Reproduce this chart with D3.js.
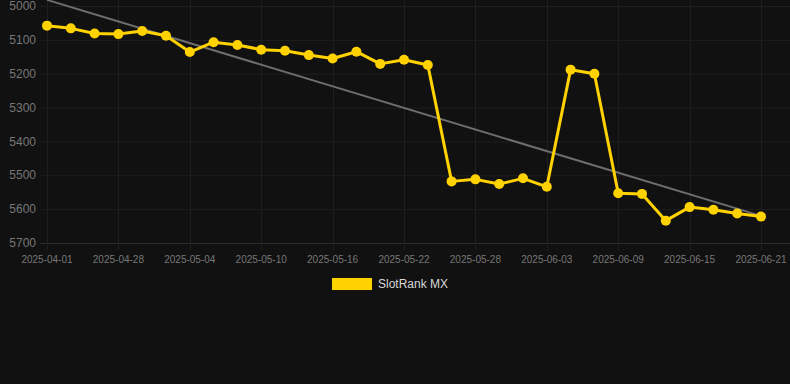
<!DOCTYPE html>
<html>
<head>
<meta charset="utf-8">
<script src="https://cdn.jsdelivr.net/npm/d3@7"></script>
<style>
  html, body { margin: 0; padding: 0; background: #111111; }
  svg { display: block; font-family: 'Liberation Sans', Arial, sans-serif; }
</style>
</head>
<body>
<div id="chart"></div>
<script>
const WIDTH = 790;
const HEIGHT = 384;

// dates on the category axis
const dates = [
  '2025-04-01', '2025-04-24', '2025-04-26', '2025-04-28', '2025-04-30', '2025-05-02',
  '2025-05-04', '2025-05-06', '2025-05-08', '2025-05-10', '2025-05-12', '2025-05-14',
  '2025-05-16', '2025-05-18', '2025-05-20', '2025-05-22', '2025-05-24', '2025-05-26',
  '2025-05-28', '2025-05-30', '2025-06-01', '2025-06-03', '2025-06-05', '2025-06-07',
  '2025-06-09', '2025-06-11', '2025-06-13', '2025-06-15', '2025-06-17', '2025-06-19',
  '2025-06-21',
];

// rank values (lower is better, axis reversed)
const ranks = [
  5058, 5066, 5081, 5083, 5074, 5088,
  5136, 5107, 5115, 5129, 5132, 5145,
  5155, 5135, 5171, 5159, 5174, 5518,
  5512, 5526, 5509, 5534, 5188, 5200,
  5553, 5555, 5634, 5594, 5602, 5613,
  5622,
];

// trend line end values
const trendStart = 4982;
const trendEnd = 5620;

const yTicks = [5000, 5100, 5200, 5300, 5400, 5500, 5600, 5700];
const xTickLabels = dates.filter((d, i) => i % 3 === 0);

const seriesName = 'SlotRank MX';

const area = { left: 47, right: 761, top: 6, bottom: 243 };

const svg = d3
  .select('#chart')
  .append('svg')
  .attr('width', WIDTH)
  .attr('height', HEIGHT);

svg.append('rect').attr('width', WIDTH).attr('height', HEIGHT).attr('fill', '#111111');

const x = d3.scalePoint().domain(dates).range([area.left, area.right]);
const y = d3.scaleLinear().domain([5000, 5700]).range([area.top, area.bottom]);

// horizontal grid
svg
  .append('g')
  .selectAll('line')
  .data(yTicks)
  .enter()
  .append('line')
  .attr('x1', 40)
  .attr('x2', WIDTH)
  .attr('y1', (d) => y(d) + 0.5)
  .attr('y2', (d) => y(d) + 0.5)
  .attr('stroke', (d) => (d === 5700 ? '#2e2e2e' : '#1f1f1f'))
  .attr('stroke-width', 1);

// vertical grid
svg
  .append('g')
  .selectAll('line')
  .data(xTickLabels)
  .enter()
  .append('line')
  .attr('x1', (d) => Math.round(x(d)) + 0.5)
  .attr('x2', (d) => Math.round(x(d)) + 0.5)
  .attr('y1', 0)
  .attr('y2', area.bottom + 7)
  .attr('stroke', '#1f1f1f')
  .attr('stroke-width', 1);

// y axis labels
svg
  .append('g')
  .selectAll('text')
  .data(yTicks)
  .enter()
  .append('text')
  .attr('x', 36)
  .attr('y', (d) => y(d))
  .attr('dy', '0.35em')
  .attr('text-anchor', 'end')
  .attr('font-size', 12)
  .attr('fill', '#777')
  .text((d) => d);

// x axis labels
svg
  .append('g')
  .selectAll('text')
  .data(xTickLabels)
  .enter()
  .append('text')
  .attr('x', (d) => x(d))
  .attr('y', 259)
  .attr('dy', '0.35em')
  .attr('text-anchor', 'middle')
  .attr('font-size', 10)
  .attr('fill', '#777')
  .text((d) => d);

// trend line
svg
  .append('line')
  .attr('x1', x(dates[0]))
  .attr('y1', y(trendStart))
  .attr('x2', x(dates[dates.length - 1]))
  .attr('y2', y(trendEnd))
  .attr('stroke', '#6e6e6e')
  .attr('stroke-width', 2);

// series line
const data = dates.map((d, i) => ({ date: d, value: ranks[i] }));

svg
  .append('path')
  .datum(data)
  .attr('fill', 'none')
  .attr('stroke', '#FFD200')
  .attr('stroke-width', 3)
  .attr('stroke-linejoin', 'round')
  .attr(
    'd',
    d3
      .line()
      .x((d) => x(d.date))
      .y((d) => y(d.value))
  );

svg
  .append('g')
  .selectAll('circle')
  .data(data)
  .enter()
  .append('circle')
  .attr('cx', (d) => x(d.date))
  .attr('cy', (d) => y(d.value))
  .attr('r', 5)
  .attr('fill', '#FFD200');

// legend
const legend = svg.append('g').attr('transform', 'translate(332, 278)');
legend.append('rect').attr('width', 40).attr('height', 12).attr('fill', '#FFD200');
legend
  .append('text')
  .attr('x', 46)
  .attr('y', 6)
  .attr('dy', '0.35em')
  .attr('font-size', 12)
  .attr('fill', '#d8d8d8')
  .text(seriesName);
</script>
</body>
</html>
